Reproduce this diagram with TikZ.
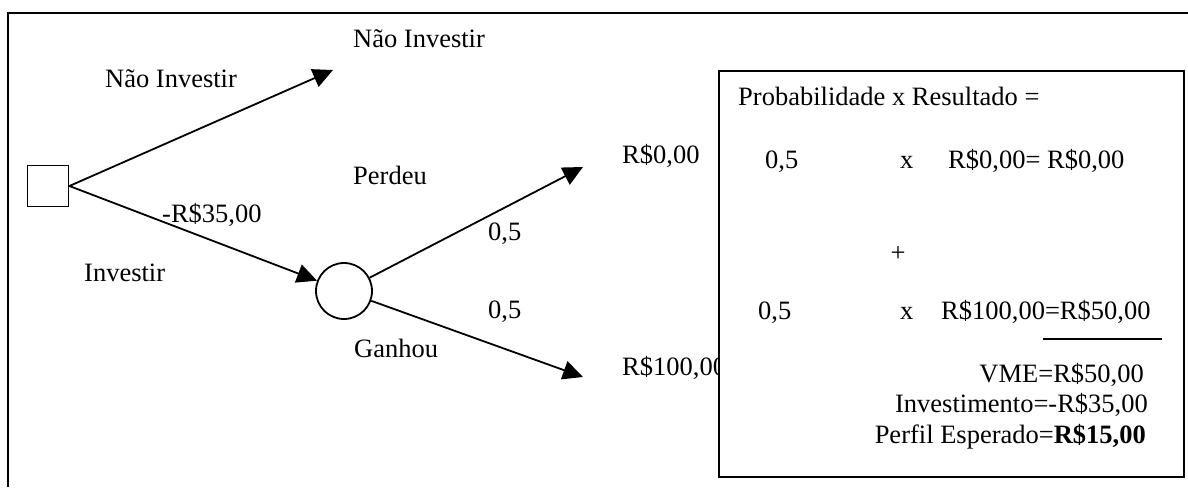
\documentclass[tikz,border=0pt]{standalone}
\usepackage{fontspec}
\setmainfont{Liberation Serif}
\usetikzlibrary{arrows.meta}
\begin{document}
\begin{tikzpicture}[x=1pt,y=-1pt,
  every node/.style={font=\fontsize{26.5}{30}\selectfont, inner sep=0pt},
  lbl/.style={anchor=base west},
  lble/.style={anchor=base east},
  edge/.style={line width=1.8pt, -{Triangle[length=20pt,width=19pt]}},
  frame/.style={line width=2pt},
  thin/.style={line width=1.8pt}]
\useasboundingbox (0,0) rectangle (1188,487);
\draw[frame] (1188,13) -- (8,13) -- (8,487);
% decision and chance nodes
\node[draw, thin, minimum width=41pt, minimum height=41pt] (sq) at (48,186) {};
\node[draw, thin, circle, minimum size=56pt] (ch) at (344,291) {};
\coordinate (t1) at (333,70);
\coordinate (t2) at (583,167);
\coordinate (t3) at (583,377);
\draw[edge] (sq.east) -- (t1);
\draw[edge] (sq.east) -- (ch);
\draw[edge] (ch) -- (t2);
\draw[edge] (ch) -- (t3);
% tree labels
\node[lbl] (n1) at (353,48) {Não Investir};
\node[lbl] (n2) at (105,88) {Não Investir};
\node[lbl] (perdeu) at (353,184) {Perdeu};
\node[lbl] (cost) at (162,222) {-R\$35,00};
\node[lbl] (p1) at (488,240) {0,5};
\node[lbl] (inv) at (84,281) {Investir};
\node[lbl] (p2) at (488,318) {0,5};
\node[lbl] (ganhou) at (354,357) {Ganhou};
\node[lbl] (r0) at (622,163) {R\$0,00};
\node[lbl] (r100) at (622,375) {R\$100,00};
% calculation box
\node[draw, thin, fill=white, anchor=north west, minimum width=465pt, minimum height=406pt] (box) at (718,70) {};
\node[lbl] (pr) at (738,105) {Probabilidade x Resultado =};
\node[lbl] (a1) at (765,168) {0,5};
\node[lbl] (x1) at (900,168) {x};
\node[lbl] (b1) at (948,168) {R\$0,00= R\$0,00};
\node (plus) at (898,254) {+};
\node[lbl] (a2) at (758,319) {0,5};
\node[lbl] (x2) at (900,319) {x};
\node[lbl] (b2) at (941,319) {R\$100,00=R\$50,00};
\draw[thin] (1043,339) -- (1162,339);
\node[lble] (vme) at (1144,382) {VME=R\$50,00};
\node[lble] (invest) at (1148,412) {Investimento=-R\$35,00};
\node[lble] (perfil) at (1146,443) {Perfil Esperado=\textbf{R\$15,00}};
\end{tikzpicture}
\end{document}
